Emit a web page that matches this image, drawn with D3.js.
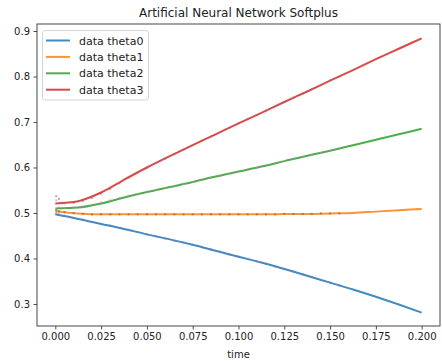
<!DOCTYPE html>
<html>
<head>
<meta charset="utf-8">
<script src="https://cdn.jsdelivr.net/npm/d3@7"></script>
<style>
  html, body { margin: 0; padding: 0; background: #fff; }
  svg { display: block; font-family: "DejaVu Sans", sans-serif; }
</style>
</head>
<body>
<svg id="chart" width="442" height="361"></svg>
<script>
// Network output (lines) sampled every 0.0125 s
const lineTime = [0, 0.0125, 0.025, 0.0375, 0.05, 0.0625, 0.075, 0.0875, 0.1,
                  0.1125, 0.125, 0.1375, 0.15, 0.1625, 0.175, 0.1875, 0.2];
const theta0 = [0.497, 0.487, 0.476, 0.465, 0.453, 0.442, 0.430, 0.417, 0.404,
                0.391, 0.377, 0.362, 0.347, 0.332, 0.316, 0.299, 0.281];
const theta1 = [0.504, 0.499, 0.497, 0.497, 0.497, 0.497, 0.497, 0.497, 0.497,
                0.497, 0.498, 0.498, 0.499, 0.500, 0.503, 0.506, 0.509];
const theta2 = [0.510, 0.512, 0.521, 0.534, 0.546, 0.557, 0.568, 0.580, 0.591,
                0.602, 0.614, 0.626, 0.637, 0.649, 0.661, 0.673, 0.685];
const theta3 = [0.521, 0.526, 0.545, 0.573, 0.600, 0.625, 0.649, 0.673, 0.697,
                0.720, 0.744, 0.767, 0.791, 0.814, 0.838, 0.861, 0.884];

// Reference samples (dots)
const dataTime = [0.0005, 0.002, 0.005, 0.01, 0.015, 0.02, 0.025, 0.03, 0.035, 0.04,
                  0.045, 0.05, 0.055, 0.06, 0.065, 0.07, 0.075, 0.08, 0.085, 0.09,
                  0.095, 0.1, 0.105, 0.11, 0.115, 0.12, 0.125, 0.13, 0.135, 0.14,
                  0.145, 0.15, 0.155];
const data0 = [0.499, 0.497, 0.494, 0.489, 0.485, 0.480, 0.476, 0.472, 0.467, 0.463,
               0.458, 0.453, 0.449, 0.444, 0.439, 0.435, 0.430, 0.425, 0.420, 0.415,
               0.409, 0.404, 0.399, 0.394, 0.388, 0.382, 0.377, 0.371, 0.365, 0.359,
               0.353, 0.347, 0.341];
const data1 = [0.506, 0.504, 0.502, 0.500, 0.498, 0.497, 0.497, 0.497, 0.497, 0.497,
               0.497, 0.497, 0.497, 0.497, 0.497, 0.497, 0.497, 0.497, 0.497, 0.497,
               0.497, 0.497, 0.497, 0.497, 0.497, 0.497, 0.498, 0.498, 0.498, 0.498,
               0.499, 0.499, 0.499];
const data2 = [0.528, 0.512, 0.511, 0.512, 0.514, 0.518, 0.523, 0.528, 0.533, 0.538,
               0.542, 0.547, 0.551, 0.555, 0.559, 0.564, 0.568, 0.573, 0.577, 0.582,
               0.586, 0.591, 0.595, 0.600, 0.605, 0.609, 0.614, 0.619, 0.623, 0.628,
               0.632, 0.637, 0.642];
const data3 = [0.537, 0.531, 0.521, 0.522, 0.526, 0.533, 0.542, 0.553, 0.565, 0.577,
               0.589, 0.600, 0.610, 0.620, 0.630, 0.639, 0.649, 0.659, 0.668, 0.678,
               0.687, 0.697, 0.706, 0.715, 0.725, 0.734, 0.744, 0.753, 0.762, 0.772,
               0.781, 0.791, 0.800];

const seriesNames = ["data theta0", "data theta1", "data theta2", "data theta3"];
const lineColors = ["#1f77b4", "#ff7f0e", "#2ca02c", "#d62728"];
const dotColors = ["#9467bd", "#8c564b", "#e377c2", "#7f7f7f"];
const xTicks = [0, 0.025, 0.05, 0.075, 0.1, 0.125, 0.15, 0.175, 0.2];
const yTicks = [0.3, 0.4, 0.5, 0.6, 0.7, 0.8, 0.9];
const titleText = "Artificial Neural Network Softplus";
const xLabel = "time";

const lines = [theta0, theta1, theta2, theta3];
const dots = [data0, data1, data2, data3];

const svg = d3.select("#chart");
const m = { left: 37, right: 440, top: 24, bottom: 326 };

const x = d3.scaleLinear().domain([-0.01, 0.21]).range([m.left, m.right]);
const y = d3.scaleLinear().domain([0.2516, 0.9154]).range([m.bottom, m.top]);

const plot = svg.append("g");

// lines
const lineGen = d3.line()
  .x(d => x(d[0]))
  .y(d => y(d[1]))
  .curve(d3.curveMonotoneX);

lines.forEach((vals, i) => {
  plot.append("path")
    .datum(vals.map((v, k) => [lineTime[k], v]))
    .attr("fill", "none")
    .attr("stroke", lineColors[i])
    .attr("stroke-width", 2)
    .attr("stroke-opacity", 0.85)
    .attr("d", lineGen);
});

// dots drawn over the lines
dots.forEach((vals, i) => {
  plot.append("g").selectAll("rect")
    .data(vals.map((v, k) => [dataTime[k], v]))
    .join("rect")
    .attr("x", d => x(d[0]) - 1)
    .attr("y", d => y(d[1]) - 1)
    .attr("width", 2)
    .attr("height", 2)
    .attr("fill", dotColors[i])
    .attr("opacity", 0.6);
});

// axes
const xAxis = d3.axisBottom(x).tickValues(xTicks).tickFormat(d3.format(".3f")).tickSize(3.5).tickPadding(3.5);
const yAxis = d3.axisLeft(y).tickValues(yTicks).tickFormat(d3.format(".1f")).tickSize(3.5).tickPadding(3.5);

const gx = svg.append("g").attr("transform", `translate(0,${m.bottom})`).call(xAxis);
const gy = svg.append("g").attr("transform", `translate(${m.left},0)`).call(yAxis);
[gx, gy].forEach(g => {
  g.select(".domain").remove();
  g.selectAll(".tick line").attr("stroke", "#222").attr("stroke-width", 0.8);
  g.selectAll(".tick text").attr("fill", "#222").attr("font-size", "10px")
    .attr("font-family", "DejaVu Sans, sans-serif");
});

// frame
svg.append("rect")
  .attr("x", m.left).attr("y", m.top)
  .attr("width", m.right - m.left).attr("height", m.bottom - m.top)
  .attr("fill", "none").attr("stroke", "#333").attr("stroke-width", 0.9);

// title and axis label
svg.append("text")
  .attr("x", (m.left + m.right) / 2).attr("y", 17)
  .attr("text-anchor", "middle").attr("font-size", "12px").attr("fill", "#222")
  .text(titleText);
svg.append("text")
  .attr("x", (m.left + m.right) / 2).attr("y", 358)
  .attr("text-anchor", "middle").attr("font-size", "10px").attr("fill", "#222")
  .text(xLabel);

// legend
const lg = svg.append("g");
lg.append("rect")
  .attr("x", 42.5).attr("y", 30.5).attr("width", 106).attr("height", 69.5)
  .attr("rx", 2.5).attr("fill", "#fff").attr("fill-opacity", 0.8)
  .attr("stroke", "#d0d0d0").attr("stroke-width", 0.9);
seriesNames.forEach((name, i) => {
  const yy = 40.5 + i * 16.4;
  lg.append("line")
    .attr("x1", 46).attr("x2", 70).attr("y1", yy).attr("y2", yy)
    .attr("stroke", lineColors[i]).attr("stroke-width", 2).attr("stroke-opacity", 0.85);
  lg.append("text")
    .attr("x", 79).attr("y", yy + 4)
    .attr("font-size", "11px").attr("fill", "#222")
    .text(name);
});
</script>
</body>
</html>
